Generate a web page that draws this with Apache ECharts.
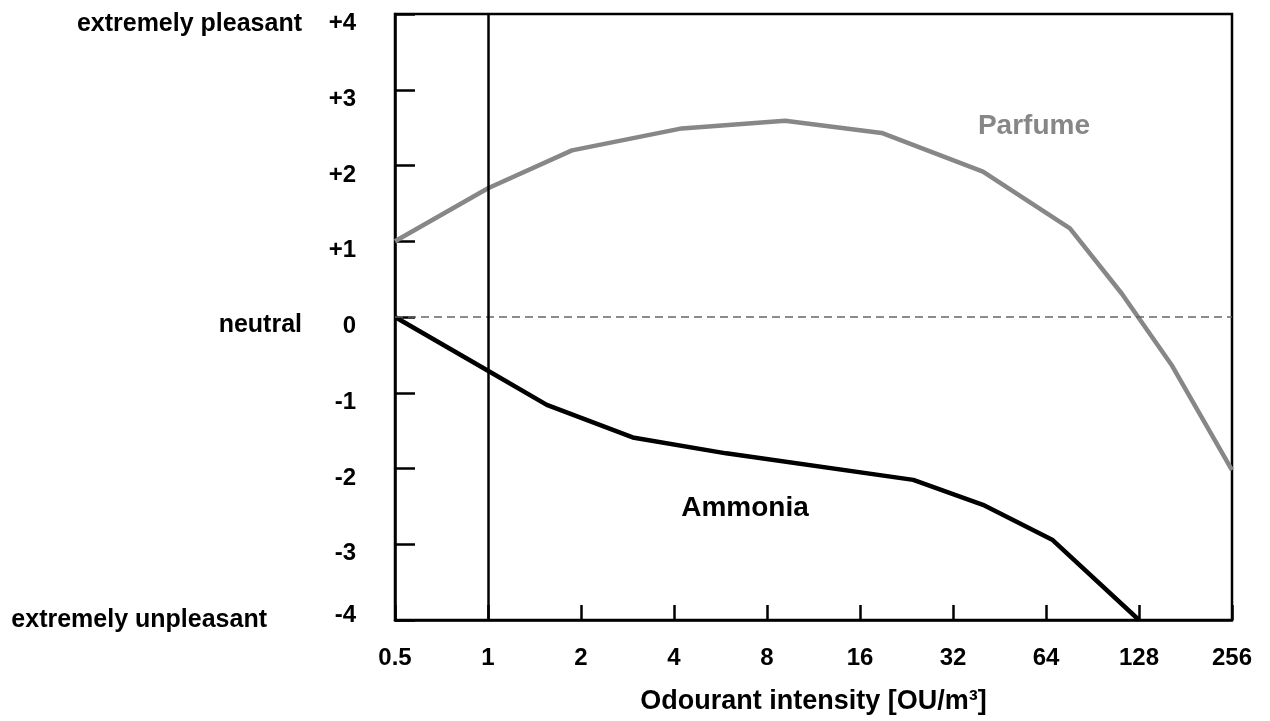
<!DOCTYPE html>
<html>
<head>
<meta charset="utf-8">
<script src="https://cdn.jsdelivr.net/npm/echarts@6/dist/echarts.min.js"></script>
<style>
  html, body { margin: 0; padding: 0; background: #fff; }
  #main { width: 1270px; height: 721px; }
</style>
</head>
<body>
<div id="main"></div>
<script>
// odour intensity (OU/m3) vs hedonic tone
var FONT = '"Liberation Sans", Arial, sans-serif';

var xTicks = [0.5, 1, 2, 4, 8, 16, 32, 64, 128, 256];
var wordValues = [4, 0, -4];
var wordTexts = ['extremely pleasant', 'neutral', 'extremely unpleasant'];

var parfumeX = [0.5, 1, 1.87, 4.24, 9.15, 18.8, 40, 76.5, 112.5, 163, 256];
var parfumeY = [1.0, 1.70, 2.2, 2.49, 2.59, 2.43, 1.92, 1.17, 0.31, -0.63, -2.02];

var ammoniaX = [0.5, 1, 1.55, 2.94, 5.9, 23.8, 40, 67, 128];
var ammoniaY = [0, -0.71, -1.16, -1.59, -1.80, -2.15, -2.48, -2.94, -4.0];

function pairs(xs, ys) {
  var out = [];
  for (var i = 0; i < xs.length; i++) {
    out.push([xs[i], ys[i]]);
  }
  return out;
}

var myChart = echarts.init(document.getElementById('main'));

var option = {
  animation: false,
  backgroundColor: '#fff',
  textStyle: { fontFamily: FONT, fontWeight: 'bold', color: '#000' },
  grid: {
    left: 395, right: 38, top: 14, bottom: 101,
    containLabel: false,
    outerBoundsMode: 'none',
    show: true, borderColor: '#000', borderWidth: 2.5
  },
  xAxis: {
    type: 'log',
    logBase: 2,
    min: 0.5,
    max: 256,
    splitNumber: 9,
    name: 'Odourant intensity [OU/m³]',
    nameLocation: 'middle',
    nameGap: 68,
    nameTextStyle: { fontFamily: FONT, fontWeight: 'bold', fontSize: 27, color: '#000' },
    axisLine: { onZero: false, lineStyle: { color: '#000', width: 2.5 } },
    axisTick: { inside: true, length: 15, lineStyle: { color: '#000', width: 2.5 } },
    splitLine: { show: false },
    axisLabel: {
      margin: 26,
      fontFamily: FONT, fontWeight: 'bold', fontSize: 24, color: '#000',
      formatter: function (v) {
        for (var i = 0; i < xTicks.length; i++) {
          if (Math.abs(xTicks[i] - v) < 1e-6) return String(xTicks[i]);
        }
        return '';
      }
    }
  },
  yAxis: [{
    type: 'value',
    min: -4,
    max: 4,
    interval: 1,
    axisLine: { onZero: false, lineStyle: { color: '#000', width: 2.5 } },
    axisTick: { inside: true, length: 20, lineStyle: { color: '#000', width: 2.5 } },
    splitLine: { show: false },
    axisLabel: {
      margin: 39,
      fontFamily: FONT, fontWeight: 'bold', fontSize: 24, color: '#000',
      formatter: function (v) {
        var s = v > 0 ? '+' + v : String(v);
        return v === -4 ? '{lo|' + s + '}' : '{n|' + s + '}';
      },
      rich: {
        n: { fontFamily: FONT, fontWeight: 'bold', fontSize: 24, color: '#000', padding: [19, 0, 0, 0] },
        lo: { fontFamily: FONT, fontWeight: 'bold', fontSize: 24, color: '#000', padding: [0, 0, 9, 0] }
      }
    }
  }, {
    type: 'value',
    min: -4,
    max: 4,
    interval: 4,
    position: 'left',
    axisLine: { show: false },
    axisTick: { show: false },
    splitLine: { show: false },
    axisLabel: {
      margin: 93,
      formatter: function (v) {
        var i = wordValues.indexOf(v);
        if (i < 0) return '';
        if (v === 4) return '{top|' + wordTexts[i] + '}';
        if (v === -4) return '{bot|' + wordTexts[i] + '}';
        return '{mid|' + wordTexts[i] + '}';
      },
      rich: {
        top: { fontFamily: FONT, fontWeight: 'bold', fontSize: 25, color: '#000', padding: [21, 0, 0, 0] },
        mid: { fontFamily: FONT, fontWeight: 'bold', fontSize: 25, color: '#000', padding: [17, 0, 0, 0] },
        bot: { fontFamily: FONT, fontWeight: 'bold', fontSize: 25, color: '#000', padding: [0, 35, 0, 0] }
      }
    }
  }],
  series: [{
    name: 'Parfume',
    type: 'line',
    data: pairs(parfumeX, parfumeY),
    symbol: 'none',
    lineStyle: { color: '#878787', width: 4.5 },
    z: 3,
    markPoint: {
      symbol: 'circle',
      symbolSize: 1,
      itemStyle: { color: 'rgba(0,0,0,0)' },
      label: {
        show: true, position: 'inside', formatter: 'Parfume',
        fontFamily: FONT, fontWeight: 'bold', fontSize: 28, color: '#878787'
      },
      data: [{ coord: [58.5, 2.52] }]
    },
    markLine: {
      silent: true,
      symbol: 'none',
      label: { show: false },
      lineStyle: { color: '#666', width: 1.5, type: [8, 5] },
      data: [{ yAxis: 0 }]
    }
  }, {
    name: 'Ammonia',
    type: 'line',
    data: pairs(ammoniaX, ammoniaY),
    symbol: 'none',
    lineStyle: { color: '#000', width: 4.5 },
    z: 3,
    markPoint: {
      symbol: 'circle',
      symbolSize: 1,
      itemStyle: { color: 'rgba(0,0,0,0)' },
      label: {
        show: true, position: 'inside', formatter: 'Ammonia',
        fontFamily: FONT, fontWeight: 'bold', fontSize: 28, color: '#000'
      },
      data: [{ coord: [6.79, -2.52] }]
    },
    markLine: {
      silent: true,
      symbol: 'none',
      label: { show: false },
      lineStyle: { color: '#000', width: 2.5, type: 'solid' },
      data: [{ xAxis: 1 }]
    }
  }]
};

myChart.setOption(option);
</script>
</body>
</html>
